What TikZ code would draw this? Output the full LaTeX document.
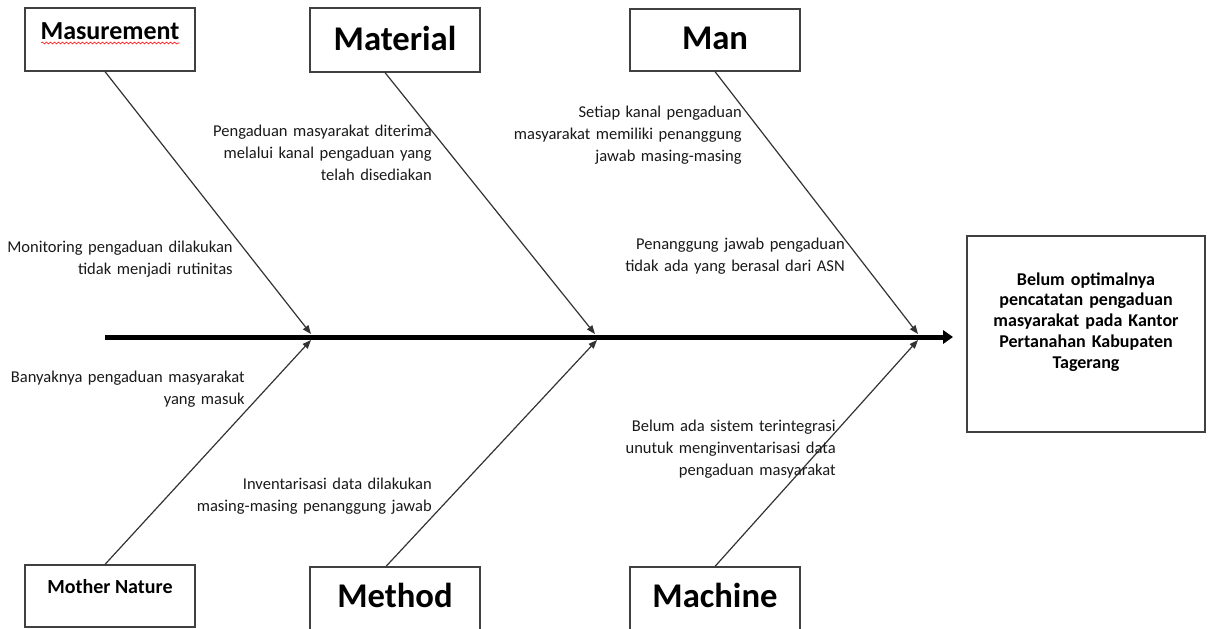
\documentclass[tikz,border=0pt]{standalone}
\usepackage{fontspec}
\setmainfont{Carlito}
\usetikzlibrary{arrows.meta,fit,calc,decorations.pathmorphing}
\begin{document}
\begin{tikzpicture}[x=0.75pt,y=-0.75pt,
 box/.style={draw=black!75, line width=0.9pt, inner sep=0pt},
 title/.style={font=\bfseries\fontsize{26}{30}\selectfont, anchor=base, inner sep=0pt},
 smalltitle/.style={title, font=\bfseries\fontsize{15}{18}\selectfont},
 midtitle/.style={title, font=\bfseries\fontsize{19.5}{23}\selectfont},
 lbl/.style={font=\fontsize{12.4}{16.5}\selectfont, align=right, text width=190pt, anchor=base east, inner sep=0pt, text=black!90},
 bone/.style={draw=black!80, line width=0.9pt, -{Triangle[length=6.5pt,width=5pt]}},
 spine/.style={draw=black, line width=3.75pt, -{Triangle[length=7.5pt,width=10pt]}},
 effecttext/.style={font=\bfseries\fontsize{13.5}{15.6}\selectfont, align=center, text width=170pt, anchor=base, inner sep=0pt},
]
\useasboundingbox (0,0) rectangle (1209,628);

% category boxes
\node[box, fit={(25,8)(195,71)}] (meas) {};
\node[box, fit={(310,8)(480,72)}] (mat) {};
\node[box, fit={(630,9)(800,71)}] (man) {};
\node[box, fit={(25,565)(195,627)}] (nat) {};
\node[box, fit={(310,567)(480,640)}] (meth) {};
\node[box, fit={(630,567)(800,640)}] (mach) {};
\node[box, fit={(967,236)(1205,432)}] (effect) {};

% titles
\node[midtitle] (tmeas) at (110,39) {Masurement};
\draw[red, line width=0.45pt, decorate, decoration={snake, amplitude=0.7pt, segment length=3pt}]
  ($(tmeas.base west)+(1,4)$) -- ($(tmeas.base east)+(0,4)$);
\node[title] (tmat) at (395,50) {Material};
\node[title] (tman) at (715,49) {Man};
\node[smalltitle] (tnat) at (110,593) {Mother Nature};
\node[title] (tmeth) at (395,607) {Method};
\node[title] (tmach) at (715,607) {Machine};
\node[effecttext] (teffect) at (1086,285) {Belum optimalnya\\pencatatan pengaduan\\masyarakat pada Kantor\\Pertanahan Kabupaten\\Tagerang};

% spine
\coordinate (spL) at (105,337);
\coordinate (spR) at (953,337);
\draw[spine] (spL) -- (spR);

% bone ends
\coordinate (j1) at (311,334);
\coordinate (j2) at (595,334);
\coordinate (j3) at (918,334);
\coordinate (k1) at (311,340);
\coordinate (k2) at (597,340);
\coordinate (k3) at (918,340);

\draw[bone] ([xshift=-3.75pt]meas.south) -- (j1);
\draw[bone] ([xshift=-7.5pt]mat.south) -- (j2);
\draw[bone] (man.south) -- (j3);
\draw[bone] ([xshift=-3.75pt]nat.north) -- (k1);
\draw[bone] ([xshift=-6.75pt]meth.north) -- (k2);
\draw[bone] (mach.north) -- (k3);

% labels
\node[lbl] (l1) at (233,252) {Monitoring pengaduan dilakukan\\tidak menjadi rutinitas};
\node[lbl] (l2) at (245,382) {Banyaknya pengaduan masyarakat\\yang masuk};
\node[lbl] (l3) at (432,136) {Pengaduan masyarakat diterima\\melalui kanal pengaduan yang\\telah disediakan};
\node[lbl] (l4) at (432,489) {Inventarisasi data dilakukan\\masing-masing penanggung jawab};
\node[lbl] (l5) at (742,117) {Setiap kanal pengaduan\\masyarakat memiliki penanggung\\jawab masing-masing};
\node[lbl] (l6) at (845,249) {Penanggung jawab pengaduan\\tidak ada yang berasal dari ASN};
\node[lbl] (l7) at (836,431) {Belum ada sistem terintegrasi\\unutuk menginventarisasi data\\pengaduan masyarakat};
\end{tikzpicture}
\end{document}
